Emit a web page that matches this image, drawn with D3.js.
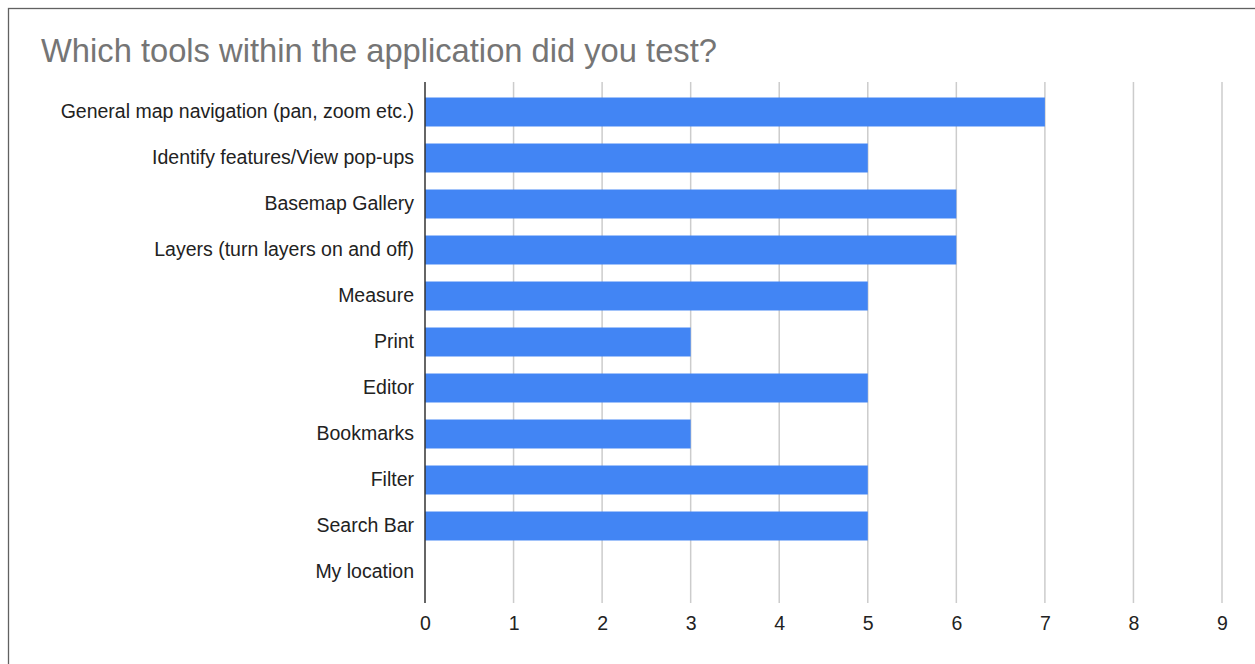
<!DOCTYPE html>
<html><head><meta charset="utf-8">
<script src="https://cdn.jsdelivr.net/npm/d3@7/dist/d3.min.js"></script>
<style>body{margin:0;background:#fff;}svg{display:block;font-family:"Liberation Sans",Arial,sans-serif;}</style>
</head><body>
<svg id="c" width="1255" height="664"></svg>
<script>
const categories = ["General map navigation (pan, zoom etc.)","Identify features/View pop-ups","Basemap Gallery","Layers (turn layers on and off)","Measure","Print","Editor","Bookmarks","Filter","Search Bar","My location"];
const values = [7,5,6,6,5,3,5,3,5,5,0];
const xTicks = [0,1,2,3,4,5,6,7,8,9];
const title = "Which tools within the application did you test?";

const svg = d3.select("#c");
svg.append("rect").attr("x",8.5).attr("y",8.5).attr("width",1260).attr("height",670)
  .attr("fill","#fff").attr("stroke","#616161").attr("stroke-width",1.3);
svg.append("text").attr("x",41).attr("y",62).attr("font-size",32.7).attr("fill","#757575").text(title);

const x = d3.scaleLinear().domain([0,9]).range([425,1222]);
const y = d3.scaleBand().domain(categories).range([89,595]).paddingInner(0.37).paddingOuter(0.185);
const gTop = 82, gBot = 603;

svg.append("g").selectAll("line").data(xTicks.filter(d=>d>0)).join("line")
  .attr("x1",d=>x(d)).attr("x2",d=>x(d)).attr("y1",gTop).attr("y2",gBot)
  .attr("stroke","#cccccc").attr("stroke-width",1.5);

svg.append("g").selectAll("rect").data(values).join("rect")
  .attr("x",x(0)).attr("y",(d,i)=>y(categories[i])).attr("width",d=>x(d)-x(0))
  .attr("height",y.bandwidth()).attr("fill","#4285f4");

svg.append("line").attr("x1",x(0)).attr("x2",x(0)).attr("y1",gTop).attr("y2",gBot)
  .attr("stroke","#333").attr("stroke-width",1.5);

const xa = d3.axisBottom(x).tickValues(xTicks).tickSize(0).tickPadding(0);
const gx = svg.append("g").attr("transform",`translate(0,${gBot})`).call(xa);
gx.select(".domain").remove();
gx.selectAll("text").attr("font-size",19.5).attr("fill","#222").attr("font-family","Liberation Sans, Arial, sans-serif").attr("dy",0).attr("y",27);

const ya = d3.axisLeft(y).tickSize(0).tickPadding(0);
const gy = svg.append("g").attr("transform",`translate(414,0)`).call(ya);
gy.select(".domain").remove();
gy.selectAll("text").attr("font-size",19.5).attr("fill","#222").attr("font-family","Liberation Sans, Arial, sans-serif");
</script>
</body></html>
